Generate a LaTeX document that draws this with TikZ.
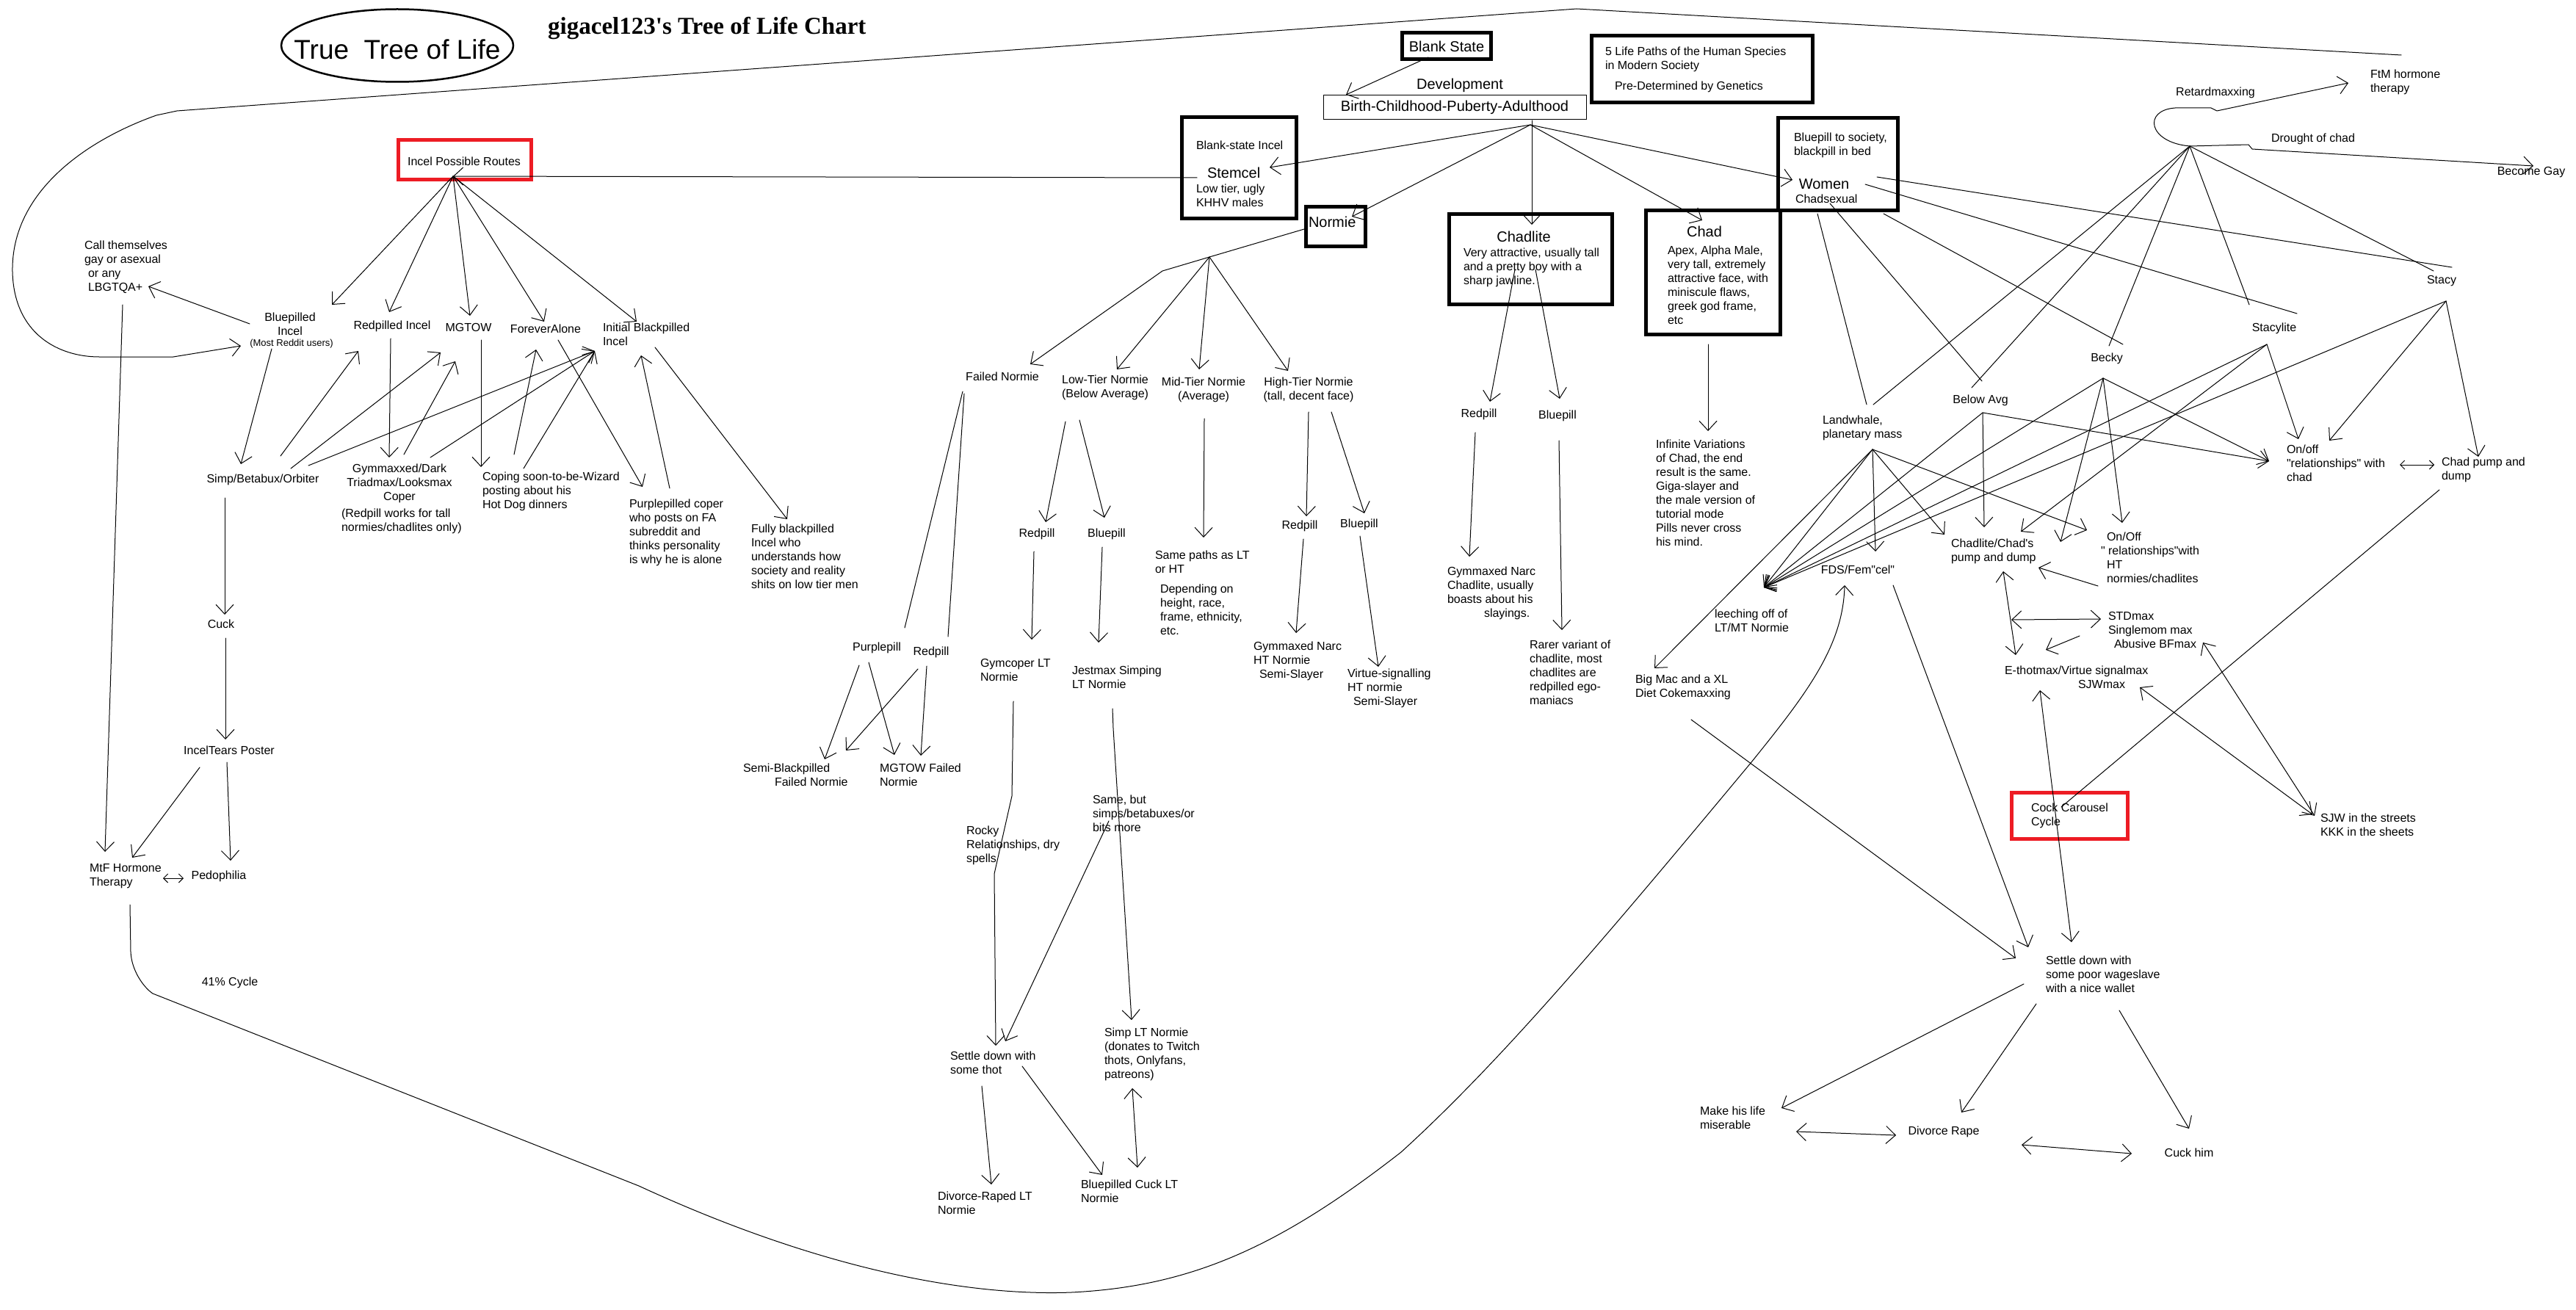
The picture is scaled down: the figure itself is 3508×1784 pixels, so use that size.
\documentclass[tikz,border=0pt]{standalone}
\usepackage{fontspec}
\newfontfamily\arl{Liberation Sans}
\newfontfamily\tnr{Liberation Serif}
\usetikzlibrary{arrows.meta,shapes.geometric}
\definecolor{pred}{RGB}{237,28,36}
\newcommand\fN{\arl\fontsize{16}{19}\selectfont}
\newcommand\fB{\arl\fontsize{20}{23}\selectfont}
\newcommand\fS{\arl\fontsize{13}{15}\selectfont}
\tikzset{
  lbl/.style={inner sep=0pt, outer sep=0pt, font=\fN, align=left, anchor=north west},
  lblc/.style={inner sep=0pt, outer sep=0pt, font=\fN, align=center},
  bigl/.style={inner sep=0pt, outer sep=0pt, font=\fB},
  tbox/.style={draw, line width=5pt, inner sep=0pt, outer sep=0pt, anchor=north west},
  rbox/.style={draw=pred, line width=5pt, inner sep=0pt, outer sep=0pt, anchor=north west},
  conn/.style={line width=1pt, line cap=round, line join=round},
  ar/.style={conn, -{Straight Barb[length=13pt,width=24pt]}},
  dar/.style={conn, {Straight Barb[length=13pt,width=24pt]}-{Straight Barb[length=13pt,width=24pt]}},
  sdar/.style={conn, {Straight Barb[length=6pt,width=12pt]}-{Straight Barb[length=6pt,width=12pt]}},
}
\begin{document}
\begin{tikzpicture}[x=1pt,y=-1pt]
\fill[white] (0,0) rectangle (3508,1784);
\useasboundingbox (0,0) rectangle (3508,1784);

% ---------- titles ----------
\node[ellipse, draw, line width=2.5pt, minimum width=316pt, minimum height=99pt, inner sep=0pt] (ttlell) at (541,62) {};
\node[inner sep=0pt, font=\arl\fontsize{37}{40}\selectfont] (ttl) at (541,67) {True~~Tree of Life};
\node[anchor=base west, inner sep=0pt, font=\tnr\bfseries\fontsize{33}{36}\selectfont] (chart) at (746,47) {gigacel123's Tree of Life Chart};

% ---------- incel side ----------
\node[rbox, minimum width=181pt, minimum height=54pt] (iprbox) at (542,191) {};
\node[lblc] (ipr) at (632,220) {Incel Possible Routes};
\node[lbl] (lbg) at (115,328) {Call themselves\\gay or asexual\\\hspace*{5pt}or any\\\hspace*{5pt}LBGTQA+};
\node[lblc, anchor=north] (bpi) at (395,426) {Bluepilled\\Incel};
\node[inner sep=0pt, font=\fS] (bpinote) at (397,468) {(Most Reddit users)};
\node[lblc] (rpi) at (534,444) {Redpilled Incel};
\node[lblc] (mgtow) at (638,446) {MGTOW};
\node[lblc] (fa) at (743,448) {ForeverAlone};
\node[lbl] (ibp) at (821,440) {Initial Blackpilled\\Incel};
\node[lblc] (simp) at (358,653) {Simp/Betabux/Orbiter};
\node[lblc, anchor=north] (gym) at (544,632) {Gymmaxxed/Dark\\Triadmax/Looksmax\\Coper};
\node[lbl] (gymnote) at (465,693) {(Redpill works for tall\\normies/chadlites only)};
\node[lbl] (coping) at (657,643) {Coping soon-to-be-Wizard\\posting about his\\Hot Dog dinners};
\node[lbl] (pcoper) at (857,680) {Purplepilled coper\\who posts on FA\\subreddit and\\thinks personality\\is why he is alone};
\node[lbl] (fully) at (1023,714) {Fully blackpilled\\Incel who\\understands how\\society and reality\\shits on low tier men};
\node[lblc] (cuck) at (301,850) {Cuck};
\node[lblc] (itp) at (312,1022) {IncelTears Poster};
\node[lbl] (mtf) at (122,1176) {MtF Hormone\\Therapy};
\node[lblc] (pedo) at (298,1193) {Pedophilia};
\node[lblc] (cyc) at (313,1338) {41\% Cycle};

% ---------- normie side ----------
\node[lblc] (failed) at (1365,513) {Failed Normie};
\node[lblc, anchor=north] (lowt) at (1505,511) {Low-Tier Normie\\(Below Average)};
\node[lblc, anchor=north] (midt) at (1639,514) {Mid-Tier Normie\\(Average)};
\node[lblc, anchor=north] (hight) at (1782,514) {High-Tier Normie\\(tall, decent face)};
\node[lblc] (purpf) at (1194,882) {Purplepill};
\node[lblc] (redf) at (1268,888) {Redpill};
\node[lbl] (semi) at (1012,1040) {Semi-Blackpilled\\\hspace*{43pt}Failed Normie};
\node[lbl] (mgf) at (1198,1040) {MGTOW Failed\\Normie};
\node[lblc] (ltred) at (1412,727) {Redpill};
\node[lblc] (ltblue) at (1507,727) {Bluepill};
\node[lbl] (gcoper) at (1335,897) {Gymcoper LT\\Normie};
\node[lbl] (jest) at (1460,907) {Jestmax Simping\\LT Normie};
\node[lbl] (samep) at (1573,750) {Same paths as LT\\or HT};
\node[lbl] (dep) at (1580,796) {Depending on\\height, race,\\frame, ethnicity,\\etc.};
\node[lbl] (rocky) at (1316,1125) {Rocky\\Relationships, dry\\spells};
\node[lbl] (sameb) at (1488,1083) {Same, but\\simps/betabuxes/or\\bits more};
\node[lbl] (sthot) at (1294,1432) {Settle down with\\some thot};
\node[lbl] (draped) at (1277,1623) {Divorce-Raped LT\\Normie};
\node[lbl] (bpcuck) at (1472,1607) {Bluepilled Cuck LT\\Normie};
\node[lbl] (simplt) at (1504,1400) {Simp LT Normie\\(donates to Twitch\\thots, Onlyfans,\\patreons)};
\node[lblc] (htred) at (1770,716) {Redpill};
\node[lblc] (htblue) at (1851,714) {Bluepill};
\node[lbl] (gnht) at (1707,874) {Gymmaxed Narc\\HT Normie\\\hspace*{8pt}Semi-Slayer};
\node[lbl] (vsig) at (1835,911) {Virtue-signalling\\HT normie\\\hspace*{8pt}Semi-Slayer};

% ---------- top centre ----------
\node[tbox, anchor=center, minimum width=121pt, minimum height=36pt, font=\fB] (bstate) at (1970,63) {Blank State};
\node[bigl] (dev) at (1988,116) {Development};
\node[draw, line width=1pt, inner sep=0pt, minimum width=358pt, minimum height=33pt, font=\fB] (birth) at (1981,146) {Birth-Childhood-Puberty-Adulthood};
\node[tbox, minimum width=301pt, minimum height=91pt] (fivebox) at (2167,49) {};
\node[lbl] (five) at (2186,64) {5 Life Paths of the Human Species\\in Modern Society};
\node[lbl] (predg) at (2199,111) {Pre-Determined by Genetics};

\node[tbox, minimum width=156pt, minimum height=138pt] (stembox) at (1609,160) {};
\node[lbl, anchor=west] (bsincel) at (1629,198) {Blank-state Incel};
\node[bigl, anchor=west] (stemcel) at (1644,235) {Stemcel};
\node[lbl] (lowtier) at (1629,251) {Low tier, ugly\\KHHV males};

\node[tbox, minimum width=81pt, minimum height=54pt] (normbox) at (1778,282) {};
\node[bigl, anchor=west] (normie) at (1782,302) {Normie};

\node[tbox, minimum width=222pt, minimum height=122pt] (clbox) at (1973,292) {};
\node[bigl] (chadlite) at (2075,322) {Chadlite};
\node[lbl] (cltext) at (1993,338) {Very attractive, usually tall\\and a pretty boy with a\\sharp jawline.};

\node[tbox, minimum width=183pt, minimum height=168pt] (chadbox) at (2241,287) {};
\node[bigl] (chad) at (2321,315) {Chad};
\node[lbl] (chadtext) at (2271,335) {Apex, Alpha Male,\\very tall, extremely\\attractive face, with\\miniscule flaws,\\greek god frame,\\etc};

\node[tbox, minimum width=163pt, minimum height=126pt] (wombox) at (2421,161) {};
\node[lbl] (womtext) at (2443,181) {Bluepill to society,\\blackpill in bed};
\node[bigl] (women) at (2484,251) {Women};
\node[lbl, anchor=west] (chadsex) at (2445,271) {Chadsexual};

% ---------- chadlite / chad ----------
\node[lblc] (clred) at (2014,564) {Redpill};
\node[lblc] (clblue) at (2121,566) {Bluepill};
\node[lbl] (gncl) at (1971,772) {Gymmaxed Narc\\Chadlite, usually\\boasts about his\\\hspace*{50pt}slayings.};
\node[lbl] (rarer) at (2083,872) {Rarer variant of\\chadlite, most\\chadlites are\\redpilled ego-\\maniacs};
\node[lbl] (infin) at (2255,599) {Infinite Variations\\of Chad, the end\\result is the same.\\Giga-slayer and\\the male version of\\tutorial mode\\Pills never cross\\his mind.};

% ---------- women side ----------
\node[lbl] (landw) at (2482,566) {Landwhale,\\planetary mass};
\node[lblc] (belowavg) at (2697,545) {Below Avg};
\node[lblc] (becky) at (2869,488) {Becky};
\node[lblc] (stacyl) at (3097,447) {Stacylite};
\node[lblc] (stacy) at (3325,383) {Stacy};
\node[lblc] (retard) at (3017,126) {Retardmaxxing};
\node[lbl] (ftm) at (3228,95) {FtM hormone\\therapy};
\node[lblc] (drought) at (3150,189) {Drought of chad};
\node[lblc] (bgay) at (3447,235) {Become Gay};
\node[lbl] (bigmac) at (2227,919) {Big Mac and a XL\\Diet Cokemaxxing};
\node[lblc] (fds) at (2530,776) {FDS/Fem"cel"};
\node[lbl] (leeching) at (2335,830) {leeching off of\\LT/MT Normie};
\node[lbl] (onoffc) at (3114,606) {On/off\\"relationships" with\\chad};
\node[lbl] (cpump) at (3325,623) {Chad pump and\\dump};
\node[lbl] (chadsp) at (2657,734) {Chadlite/Chad's\\pump and dump};
\node[lbl] (onoffht) at (2869,725) {On/Off\\\hspace*{-8pt}" relationships"with\\HT\\normies/chadlites};
\node[lbl] (stdmax) at (2871,833) {STDmax\\Singlemom max\\\hspace*{8pt}Abusive BFmax};
\node[lbl] (ethot) at (2730,907) {E-thotmax/Virtue signalmax\\\hspace*{100pt}SJWmax};
\node[lbl] (sjw) at (3160,1108) {SJW in the streets\\KKK in the sheets};
\node[rbox, minimum width=158pt, minimum height=63pt] (cockbox) at (2739,1079) {};
\node[lbl] (cock) at (2766,1094) {Cock Carousel\\Cycle};
\node[lbl] (settlew) at (2786,1302) {Settle down with\\some poor wageslave\\with a nice wallet};
\node[lbl] (make) at (2315,1507) {Make his life\\miserable};
\node[lblc] (divr) at (2647,1541) {Divorce Rape};
\node[lblc] (cuckhim) at (2981,1570) {Cuck him};

% ---------- connector end points ----------
\path (617,240) coordinate (pIprO) (1630,242) coordinate (pStemL)
  (452,415) coordinate (pBpiT) (530,425) coordinate (pRpiT) (640,430) coordinate (pMgT)
  (741,438) coordinate (pFaT) (867,438) coordinate (pIbT)
  (340,441) coordinate (pBpiL) (202,390) coordinate (pLbgT)
  (167,415) coordinate (pLbgB) (143,1160) coordinate (pMtfT)
  (370,475) coordinate (pBpiB) (328,632) coordinate (pSimpT)
  (382,621) coordinate (pSimpA) (488,478) coordinate (pRpiT2)
  (396,638) coordinate (pSimpB) (600,480) coordinate (pMgT2)
  (420,634) coordinate (pSimpC) (810,478) coordinate (pIbT2)
  (532,461) coordinate (pRpiB) (530,623) coordinate (pGymT)
  (550,619) coordinate (pGymA) (620,492) coordinate (pMgT3)
  (586,623) coordinate (pGymB)
  (655,463) coordinate (pMgB) (655,636) coordinate (pCopT)
  (700,619) coordinate (pCopA) (730,476) coordinate (pFaT2)
  (713,638) coordinate (pCopB)
  (760,463) coordinate (pFaB) (875,663) coordinate (pPcT)
  (912,665) coordinate (pPcA) (873,484) coordinate (pIbT3)
  (892,473) coordinate (pIbB) (1072,707) coordinate (pFullyT)
  (306,678) coordinate (pSimpD) (306,837) coordinate (pCuckT)
  (307,869) coordinate (pCuckB) (307,1007) coordinate (pItT)
  (272,1045) coordinate (pItA) (180,1168) coordinate (pMtfT2)
  (309,1038) coordinate (pItB) (314,1172) coordinate (pPedoT)
  (222,1196) coordinate (pMtfR) (250,1196) coordinate (pPedoL)
  (3270,75) coordinate (pLoopA) (2147,12) coordinate (pLoopB) (241,151) coordinate (pLoopC)
  (213,157) coordinate (pLoopD) (17,370) coordinate (pLoopE) (135,486) coordinate (pLoopF)
  (236,486) coordinate (pLoopG) (328,471) coordinate (pBpiArr)
  (177,1232) coordinate (pMtfB) (178,1296) coordinate (pC1) (208,1353) coordinate (pC2)
  (870,1615) coordinate (pC3) (1459,1760) coordinate (pC4) (1908,1569) coordinate (pC5)
  (2385,1038) coordinate (pC6) (2512,797) coordinate (pFdsT2)
  % normie
  (1776,312) coordinate (pNormL) (1647,350) coordinate (pHubN) (1583,369) coordinate (pHubNk)
  (1403,496) coordinate (pFailedT) (1521,503) coordinate (pLowT) (1633,503) coordinate (pMidT) (1754,505) coordinate (pHighT)
  (1311,533) coordinate (pFailedB1) (1232,855) coordinate (pPurpFT)
  (1313,536) coordinate (pFailedB2) (1291,867) coordinate (pRedFT)
  (1170,906) coordinate (pPurpFA) (1123,1034) coordinate (pSemiT)
  (1183,902) coordinate (pPurpFB) (1218,1028) coordinate (pMgfT)
  (1250,911) coordinate (pRedFA) (1152,1022) coordinate (pSemiT2)
  (1262,907) coordinate (pRedFB) (1254,1029) coordinate (pMgfT2)
  (1451,574) coordinate (pLowA) (1424,711) coordinate (pLtRedT)
  (1470,572) coordinate (pLowB) (1504,705) coordinate (pLtBlueT)
  (1408,751) coordinate (pLtRedB) (1405,871) coordinate (pGcT)
  (1501,745) coordinate (pLtBlueB) (1496,875) coordinate (pJmT)
  (1640,570) coordinate (pMidB) (1639,732) coordinate (pSpT)
  (1782,561) coordinate (pHighA) (1779,703) coordinate (pHtRedT)
  (1813,561) coordinate (pHighB) (1858,699) coordinate (pHtBlueT)
  (1775,734) coordinate (pHtRedB) (1765,862) coordinate (pGnhT)
  (1852,730) coordinate (pHtBlueB) (1877,908) coordinate (pVsT)
  (1380,955) coordinate (pGcB) (1378,1084) coordinate (pGcK1) (1354,1190) coordinate (pGcK2) (1356,1424) coordinate (pStT)
  (1515,965) coordinate (pJmB) (1516,992) coordinate (pJmK) (1541,1389) coordinate (pSltT)
  (1510,1118) coordinate (pSbB) (1369,1418) coordinate (pStT2)
  (1337,1479) coordinate (pStA) (1350,1613) coordinate (pDrT)
  (1392,1452) coordinate (pStB) (1501,1600) coordinate (pBcT)
  (1542,1482) coordinate (pSltB) (1549,1590) coordinate (pBcT2)
  % top centre
  (1945,78) coordinate (pBsB) (1833,129) coordinate (pBirthT)
  (2084,170) coordinate (pHubB) (2086,164) coordinate (pHubB2)
  (1729,228) coordinate (pStemT) (1841,295) coordinate (pNormT) (2086,306) coordinate (pClT)
  (2318,300) coordinate (pChadT) (2441,245) coordinate (pWomT)
  (2063,367) coordinate (pClA) (2029,547) coordinate (pClRedT)
  (2091,367) coordinate (pClB) (2124,543) coordinate (pClBlueT)
  (2009,589) coordinate (pClRedB) (2001,758) coordinate (pGncT)
  (2123,600) coordinate (pClBlueB) (2127,858) coordinate (pRarerT)
  (2326,469) coordinate (pChadB) (2326,587) coordinate (pInfT)
  % women
  (2475,291) coordinate (pWomA) (2542,551) coordinate (pLwT)
  (2492,277) coordinate (pWomB) (2699,519) coordinate (pBaT)
  (2565,291) coordinate (pWomC) (2891,469) coordinate (pBeT)
  (2540,251) coordinate (pWomD) (3128,427) coordinate (pSlT)
  (2556,241) coordinate (pWomE) (3339,364) coordinate (pStcT)
  (2982,199) coordinate (pHubW)
  (2551,551) coordinate (pLwT2) (2685,528) coordinate (pBaT2) (2872,471) coordinate (pBeT2)
  (3063,415) coordinate (pSlT2) (3314,369) coordinate (pStcT2)
  (3198,113) coordinate (pFtmT) (3450,226) coordinate (pGayT)
  (2550,612) coordinate (pLwB) (2554,751) coordinate (pFdsT) (2253,910) coordinate (pBmT)
  (2402,800) coordinate (pLeech) (2648,728) coordinate (pCpT1) (2842,722) coordinate (pOhT1)
  (2700,562) coordinate (pBaB) (2702,718) coordinate (pCpT2) (3090,628) coordinate (pOcT1)
  (2864,515) coordinate (pBeB) (2806,738) coordinate (pCpT3) (2890,712) coordinate (pOhT2)
  (3087,469) coordinate (pSlB) (3130,598) coordinate (pOcT2) (2752,724) coordinate (pCpT4)
  (3331,410) coordinate (pStcB) (3172,600) coordinate (pOcT3) (3375,622) coordinate (pPumpT)
  (2857,798) coordinate (pOhA) (2776,773) coordinate (pCpT5)
  (2728,778) coordinate (pCpB) (2745,892) coordinate (pEtT)
  (2739,844) coordinate (pEtR) (2861,843) coordinate (pStdL)
  (2832,866) coordinate (pStdA) (2786,885) coordinate (pEtT2)
  (2778,940) coordinate (pEtB) (2821,1283) coordinate (pSwT)
  (2914,936) coordinate (pSjwmR) (3149,1109) coordinate (pSjwT)
  (3000,875) coordinate (pAbR) (3152,1111) coordinate (pSjwT2)
  (3322,667) coordinate (pPumpB) (2807,1099) coordinate (pCockT)
  (3268,633) coordinate (pOcR) (3315,633) coordinate (pPumpL)
  (2578,797) coordinate (pFdsB) (2762,1290) coordinate (pSwT2)
  (2303,980) coordinate (pBmB) (2745,1305) coordinate (pSwT3)
  (2756,1340) coordinate (pSwA) (2426,1509) coordinate (pMkT)
  (2773,1367) coordinate (pSwB) (2671,1515) coordinate (pDvT)
  (2886,1376) coordinate (pSwC) (2981,1537) coordinate (pChT)
  (2446,1541) coordinate (pMkR) (2582,1546) coordinate (pDvL)
  (2753,1559) coordinate (pDvR) (2903,1571) coordinate (pChL);

% ---------- connectors: incel ----------
\draw[ar] (pStemL) -- (pIprO);
\foreach \t in {pBpiT,pRpiT,pMgT,pFaT,pIbT} \draw[ar] (pIprO) -- (\t);
\draw[ar] (pBpiL) -- (pLbgT);
\draw[ar] (pLbgB) -- (pMtfT);
\draw[ar] (pBpiB) -- (pSimpT);
\draw[ar] (pSimpA) -- (pRpiT2);
\draw[ar] (pSimpB) -- (pMgT2);
\draw[ar] (pSimpC) -- (pIbT2);
\draw[ar] (pRpiB) -- (pGymT);
\draw[ar] (pGymA) -- (pMgT3);
\draw[ar] (pGymB) -- (pIbT2);
\draw[ar] (pMgB) -- (pCopT);
\draw[ar] (pCopA) -- (pFaT2);
\draw[ar] (pCopB) -- (pIbT2);
\draw[ar] (pFaB) -- (pPcT);
\draw[ar] (pPcA) -- (pIbT3);
\draw[ar] (pIbB) -- (pFullyT);
\draw[ar] (pSimpD) -- (pCuckT);
\draw[ar] (pCuckB) -- (pItT);
\draw[ar] (pItA) -- (pMtfT2);
\draw[ar] (pItB) -- (pPedoT);
\draw[sdar] (pMtfR) -- (pPedoL);
\draw[ar] (pLoopA) -- (pLoopB) -- (pLoopC) -- (pLoopD) .. controls (120,190) and (15,260) .. (pLoopE) .. controls (19,455) and (80,486) .. (pLoopF) -- (pLoopG) -- (pBpiArr);
\draw[ar] (pMtfB) -- (pC1) .. controls (179,1322) and (196,1345) .. (pC2) -- (pC3) .. controls (1130,1735) and (1330,1765) .. (pC4) .. controls (1620,1752) and (1740,1700) .. (pC5) .. controls (2050,1440) and (2200,1260) .. (pC6) .. controls (2460,945) and (2510,880) .. (pFdsT2);

% ---------- connectors: normie ----------
\draw[conn] (pNormL) -- (pHubN);
\draw[ar] (pHubN) -- (pHubNk) -- (pFailedT);
\draw[ar] (pHubN) -- (pLowT);
\draw[ar] (pHubN) -- (pMidT);
\draw[ar] (pHubN) -- (pHighT);
\draw[conn] (pFailedB1) -- (pPurpFT);
\draw[conn] (pFailedB2) -- (pRedFT);
\draw[ar] (pPurpFA) -- (pSemiT);
\draw[ar] (pPurpFB) -- (pMgfT);
\draw[ar] (pRedFA) -- (pSemiT2);
\draw[ar] (pRedFB) -- (pMgfT2);
\draw[ar] (pLowA) -- (pLtRedT);
\draw[ar] (pLowB) -- (pLtBlueT);
\draw[ar] (pLtRedB) -- (pGcT);
\draw[ar] (pLtBlueB) -- (pJmT);
\draw[ar] (pMidB) -- (pSpT);
\draw[ar] (pHighA) -- (pHtRedT);
\draw[ar] (pHighB) -- (pHtBlueT);
\draw[ar] (pHtRedB) -- (pGnhT);
\draw[ar] (pHtBlueB) -- (pVsT);
\draw[ar] (pGcB) -- (pGcK1) -- (pGcK2) -- (pStT);
\draw[ar] (pJmB) -- (pJmK) -- (pSltT);
\draw[ar] (pSbB) -- (pStT2);
\draw[ar] (pStA) -- (pDrT);
\draw[ar] (pStB) -- (pBcT);
\draw[dar] (pSltB) -- (pBcT2);

% ---------- connectors: top centre ----------
\draw[ar] (pBsB) -- (pBirthT);
\foreach \t in {pStemT,pNormT,pChadT,pWomT} \draw[ar] (pHubB) -- (\t);
\draw[ar] (pHubB2) -- (pClT);
\draw[ar] (pClA) -- (pClRedT);
\draw[ar] (pClB) -- (pClBlueT);
\draw[ar] (pClRedB) -- (pGncT);
\draw[ar] (pClBlueB) -- (pRarerT);
\draw[ar] (pChadB) -- (pInfT);

% ---------- connectors: women ----------
\foreach \s/\t in {pWomA/pLwT,pWomB/pBaT,pWomC/pBeT,pWomD/pSlT,pWomE/pStcT} \draw[conn] (\s) -- (\t);
\foreach \t in {pLwT2,pBaT2,pBeT2,pSlT2,pStcT2} \draw[conn] (pHubW) -- (\t);
\draw[ar] (pHubW) .. controls (2925,194) and (2918,150) .. (2962,147) -- (3011,147) -- (3019,151) -- (pFtmT);
\draw[ar] (pHubW) -- (3062,197) -- (3067,203) -- (pGayT);
\foreach \t in {pFdsT,pBmT,pLeech,pCpT1,pOhT1} \draw[ar] (pLwB) -- (\t);
\foreach \t in {pLeech,pCpT2,pOcT1} \draw[ar] (pBaB) -- (\t);
\foreach \t in {pLeech,pCpT3,pOhT2,pOcT1} \draw[ar] (pBeB) -- (\t);
\foreach \t in {pLeech,pOcT2,pCpT4} \draw[ar] (pSlB) -- (\t);
\foreach \t in {pLeech,pOcT3,pPumpT} \draw[ar] (pStcB) -- (\t);
\draw[ar] (pOhA) -- (pCpT5);
\draw[dar] (pCpB) -- (pEtT);
\draw[dar] (pEtR) -- (pStdL);
\draw[ar] (pStdA) -- (pEtT2);
\draw[dar] (pEtB) -- (pSwT);
\draw[dar] (pSjwmR) -- (pSjwT);
\draw[dar] (pAbR) -- (pSjwT2);
\draw[conn] (pPumpB) -- (pCockT);
\draw[sdar] (pOcR) -- (pPumpL);
\draw[ar] (pFdsB) -- (pSwT2);
\draw[ar] (pBmB) -- (pSwT3);
\draw[ar] (pSwA) -- (pMkT);
\draw[ar] (pSwB) -- (pDvT);
\draw[ar] (pSwC) -- (pChT);
\draw[dar] (pMkR) -- (pDvL);
\draw[dar] (pDvR) -- (pChL);
\end{tikzpicture}
\end{document}
